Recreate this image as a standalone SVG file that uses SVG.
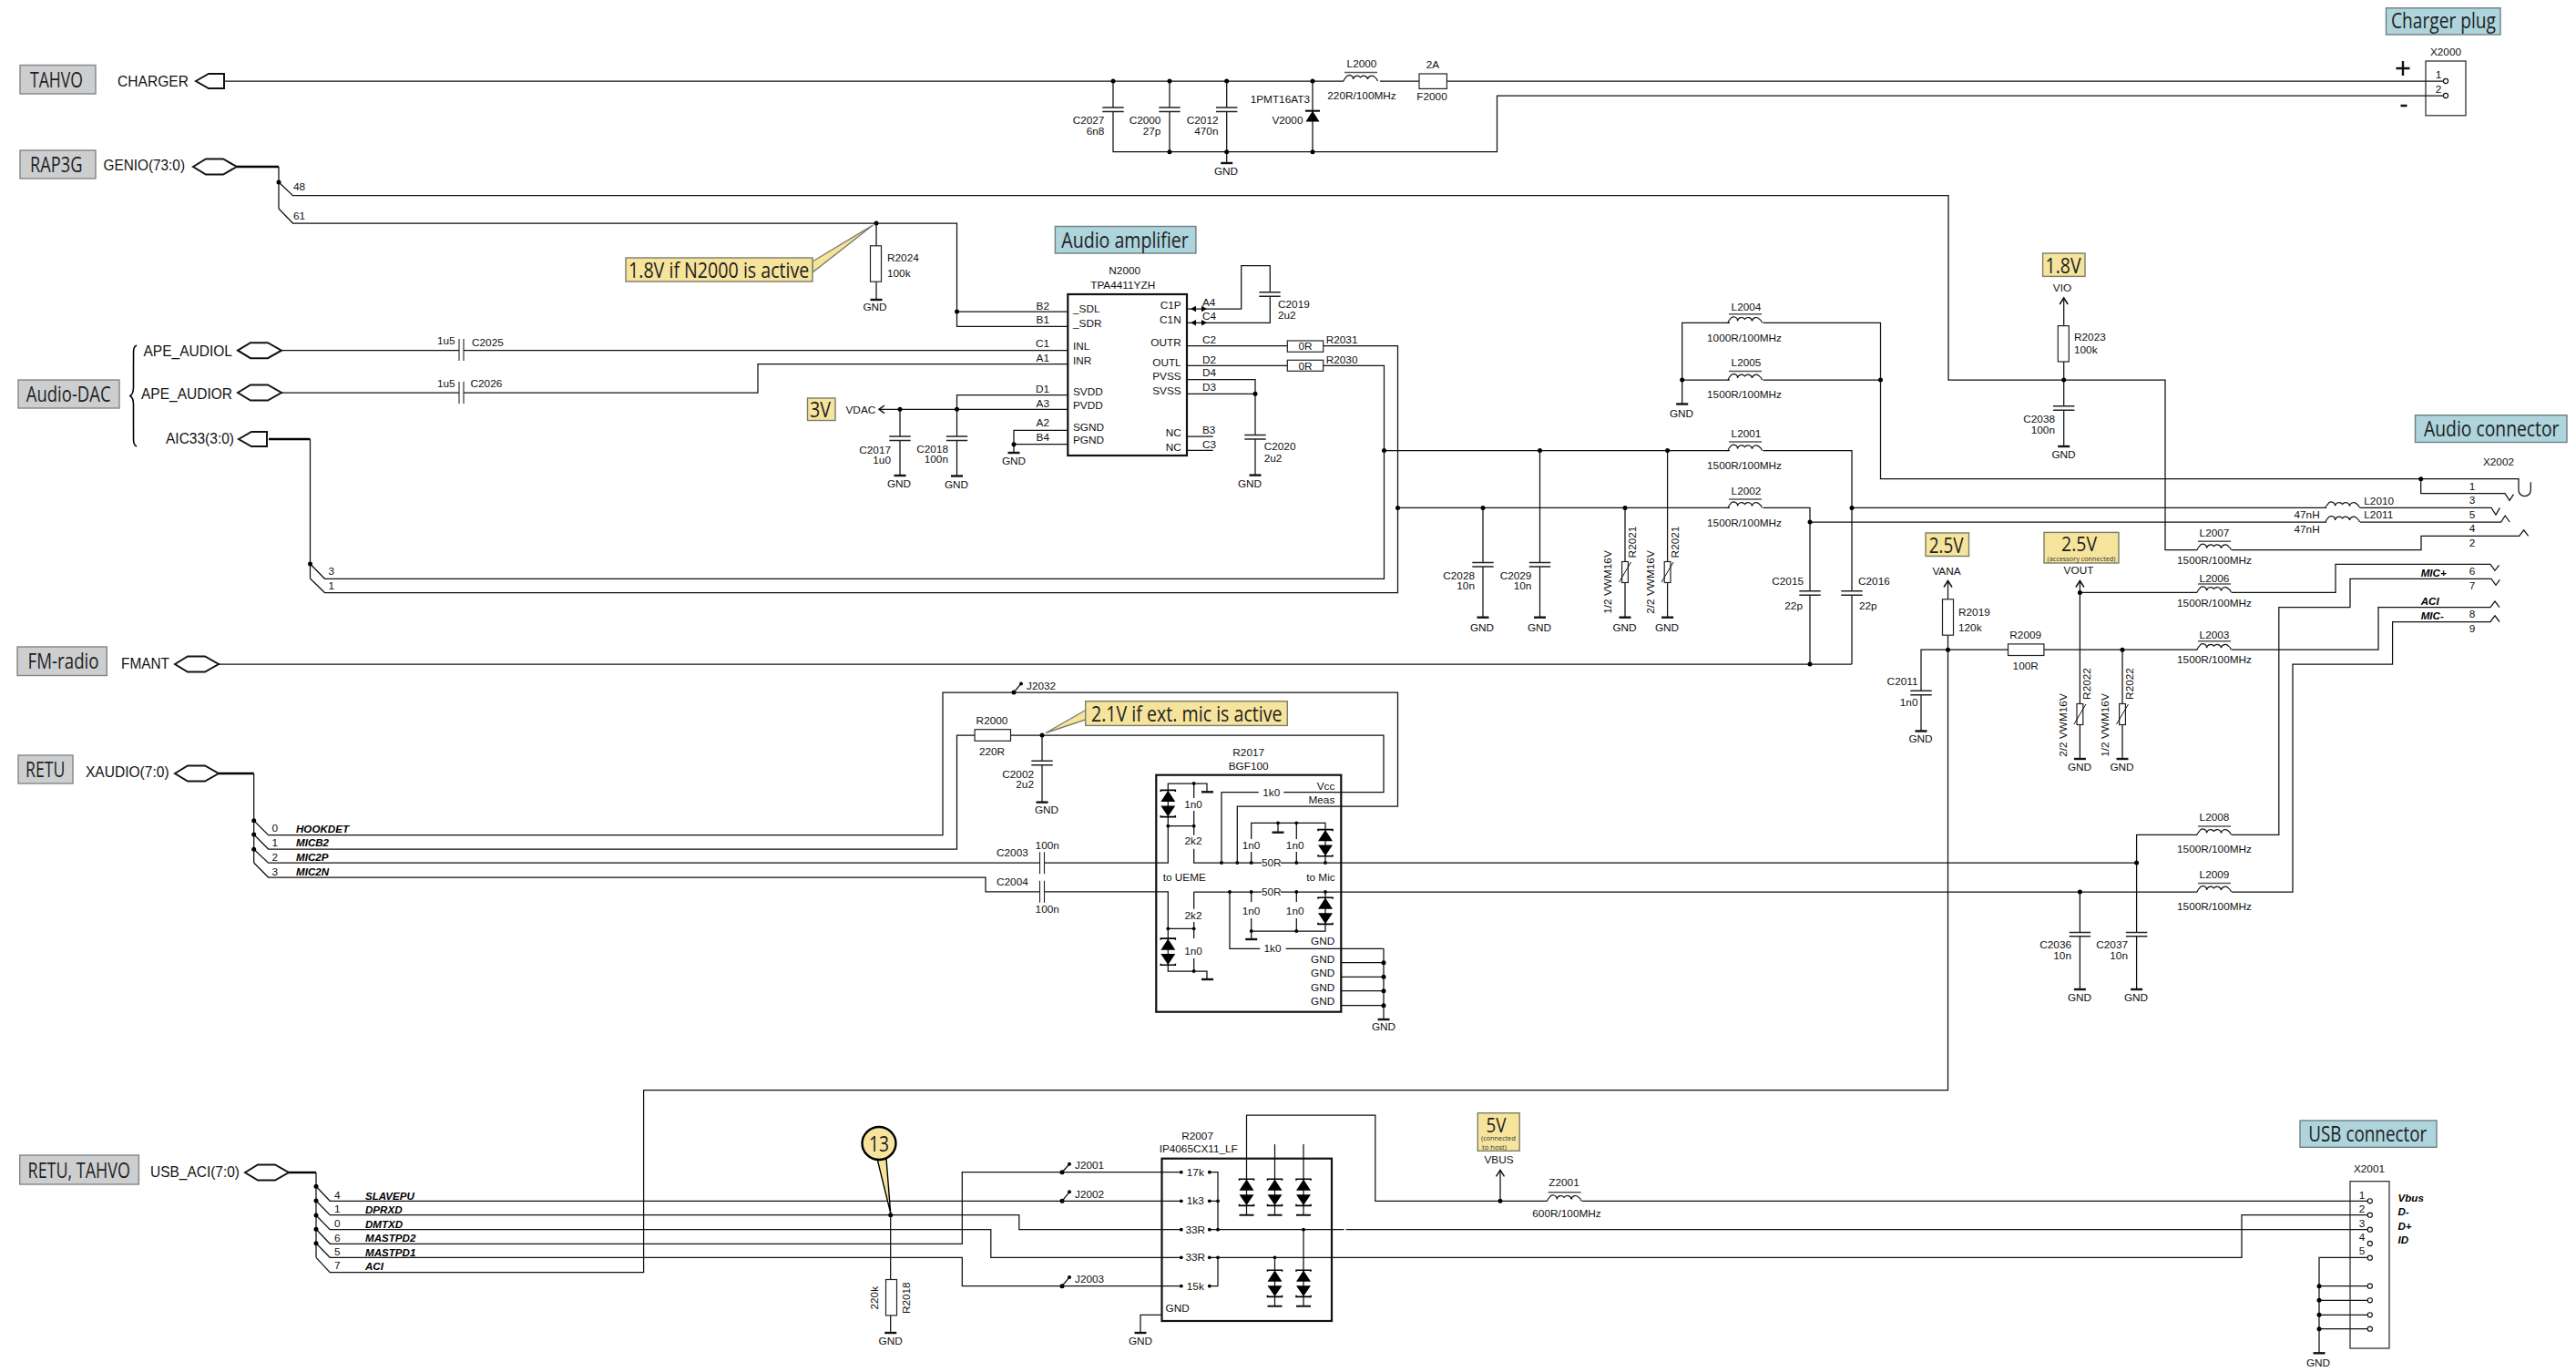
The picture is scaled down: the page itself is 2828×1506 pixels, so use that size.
<svg xmlns="http://www.w3.org/2000/svg" xmlns:xlink="http://www.w3.org/1999/xlink" width="2828" height="1506" viewBox="0 0 2828 1506">
<style>
text{font-family:"Liberation Sans",Arial,sans-serif;font-size:11.8px;fill:#111}
.m{text-anchor:middle}.e{text-anchor:end}
.p{font-size:16.5px}
.bi{font-weight:bold;font-style:italic;font-size:11.6px;fill:#000}
.c{font-family:"Open Sans","Noto Sans",sans-serif;font-size:24px;fill:#1f1f1f}
.s{font-family:"Open Sans","Noto Sans",sans-serif;font-size:8px;fill:#333}
.w{fill:none;stroke:#111;stroke-width:1.25}
.bus{fill:none;stroke:#000;stroke-width:2.4}
.bx{fill:none;stroke:#111;stroke-width:2.2}
.lg{fill:#cdced0;stroke:#858585;stroke-width:1.4}
.ly{fill:#f6e49c;stroke:#7d7d6a;stroke-width:1.4}
.lb{fill:#aed4dc;stroke:#6f7f84;stroke-width:1.4}
.r{fill:#fff;stroke:#222;stroke-width:1.2}
</style>
<defs>
<circle id="j" r="2.5" fill="#000"/>
<circle id="k" r="1.9" fill="#000"/>
<circle id="o" r="2.6" fill="#fff" stroke="#111" stroke-width="1.1"/>
<path id="gnd" d="M-6.5 0H6.5" stroke="#111" stroke-width="2.4" fill="none"/>
<g id="capv"><rect x="-12" y="-2.2" width="24" height="4.4" fill="#fff"/><path d="M-11.7 -2.2H11.7M-11.7 2.2H11.7" stroke="#222" stroke-width="1.5"/></g>
<g id="caph"><rect x="-2.5" y="-12" width="5" height="24" fill="#fff"/><path d="M-2.5 -12V12M2.5 -12V12" stroke="#222" stroke-width="1.1"/></g>
<rect id="rv" class="r" x="-6" y="-19.7" width="12" height="39.4"/>
<rect id="rh" class="r" x="-19.7" y="-6.3" width="39.4" height="12.6"/>
<path id="ind" d="M0 0q1 -3 2.5 -4a4.2 4.2 0 0 1 8 2a4.5 4.5 0 0 1 8 -2a4.5 4.5 0 0 1 8 2a4.5 4.5 0 0 1 8 -2q2 1 3 4" fill="none" stroke="#111" stroke-width="1.2"/>
<g id="indb"><use xlink:href="#ind"/><path d="M1 -9.5H37" stroke="#555" stroke-width="1.5"/></g>
<g id="dp"><path d="M0 -14.2L-8 -2H8Z M0 14.2L-8 2.4H8Z" fill="#000"/><path d="M-8 -13V-14.6H8V-13M-8 13V14.6H8V13" fill="none" stroke="#000" stroke-width="1.6"/></g>
<path id="hex" class="r" style="stroke-width:2;stroke:#111" d="M0 0L14 -8.5H33L48 0L33 8.5H14Z"/>
<path id="prt" class="r" style="stroke-width:2;stroke:#111" d="M0 0L14 -8H31V8H14Z"/>
<path id="bd" d="M0 0L6 -3.2V3.2ZM18 0L12 -3.2V3.2Z" fill="#000"/>
<path id="ar" d="M-4.5 7L0 0L4.5 7" fill="none" stroke="#111" stroke-width="1.5"/>
<g id="vr"><rect class="r" x="-3.4" y="-11.5" width="6.8" height="23"/><path d="M-6.5 11L6.5 -11" stroke="#111" stroke-width="1"/></g>
</defs>

<g id="connectors">
<path class="w" d="M246 89H1475M1515 89H1558M1588 89H2685"/>
<path class="w" d="M1222 89V166.7H1643.5V105H2685M1284 89V166.7M1346.7 89V179M1441 89V166.7"/>
<path class="bus" d="M260 183H306"/>
<path class="w" d="M306 183V229M306 200L321.5 214.7H2139V417H2377V603.7H2412M2450 603.7H2658V588.4H2765.7l5 -6.6l5 6.6"/>
<path class="w" d="M306 229L321.5 245H1050.5V358.3H1172M1050.5 342H1172M962 245V329"/>
<path class="w" d="M309 384.7H1172M309 431H832V399.5H1172"/>
<path class="bus" d="M295 482H340.5"/>
<path class="w" d="M340.5 482V635M340.5 619L356.5 635.3H1519.5V401.4H1452M340.5 635L356.5 650.5H1534.5V379.5H1452M1303 379.5H1414M1303 401.4H1414"/>
<path class="w" d="M988 449.3V522M965 449.3H1172M1050.5 449.3V433.7H1172M1050.5 449.3V522.5M1113 497V472.3H1172M1113 487.7H1172"/>
<path class="w" d="M1303 339H1362.7V291.7H1394.3V354.3H1303M1303 416.7H1378V521.6M1303 432.3H1378M1303 479H1331.7M1303 494.3H1331.7"/>
<path class="w" d="M1519.5 494.6H1899M1935.5 494.6H2033V729M1534.5 557.4H1899M1935.5 557.4H1987V729"/>
<path class="w" d="M2033 557.4H2554M2591 557.4H2735l5 7.6l4.4 -7.6M1987 573H2554M2591 573H2745.7l4.5 -7l5 7"/>
<path class="w" d="M1628 557.4V677.7M1690.5 494.6V677.7M1784 557.4V677.7M1830.6 494.6V677.7"/>
<path class="w" d="M240 729H2033"/>
<path class="w" d="M1846.7 443.5V354.3H1899M1935.5 354.3H2064.5V525.7H2765V538a6.65 6.65 0 0 0 13.3 0V529.3M1846.7 417H1899M1935.5 417H2064.5M2657.7 525.7V541.7H2750l5 7.6l4.5 -6.6"/>
<path class="w" d="M2265.7 327V490"/>
<path class="w" d="M2138.5 637.5V1196.7H706.6V1396.7H362.2L347 1380.3"/>
<path class="w" d="M2109 802.5V713.2H2205M2244 713.2H2412M2450 713.2H2611V666.7H2734l5 -6.6l5 6.6"/>
<path class="w" d="M2283.4 637.5V833M2330 713.2V833M2283.4 650.4H2412M2450 650.4H2564V619.3H2734l5 7l4.5 -6"/>
<path class="bus" d="M240 849H278.7"/>
<path class="w" d="M278.7 849V947M278.7 900.7L294.6 916.7H1035V760H1534.5V885H1358.3V947"/>
<path class="w" d="M278.7 916L294.6 932H1050.5V807H1070M1109.6 807H1519V869.7H1409.3M1381.7 869.7H1341V947M1144 807V880.6"/>
<path class="w" d="M278.7 932.3L294.6 947.2H1282.3V860H1325V869.3M1310.7 860V876M1310.7 890V916.7M1282.3 906.7H1310.7M1310.7 931.7V947H1385M1406 947H2345.6M2345.6 1086V916.4H2412M2450 916.4H2501.8V666.7H2580V635.3H2735l5 7l4.4 -6"/>
<path class="w" d="M278.7 947L294.6 963H1082V978.8H1282.3V1066H1325V1075M1310.7 979V997.7M1310.7 1012V1030M1310.7 1052V1066M1282.3 1019.3H1310.7"/>
<path class="w" d="M1310.7 979H1385M1406 979H2412M2450 979H2517V729H2626.6V682.5H2734l5 -6.6l5 6.6M2283.4 979V1086"/>
<path class="w" d="M1373.7 947V935M1373.7 921V903.3H1455V947M1403 903.3V913.7M1423.3 903.3V921M1423.3 935V947"/>
<path class="w" d="M1350 979V1041.3H1383.3M1411.7 1041.3H1519M1373.7 979V990M1373.7 1008V1031M1373.7 1022H1455V979M1423.3 979V990M1423.3 1008V1022"/>
<path class="w" d="M1472 1056.7H1519M1472 1072.3H1519M1472 1087.7H1519M1472 1103.7H1519M1519 1041.3V1119"/>
<path class="bus" d="M315.7 1287H347"/>
<path class="w" d="M347 1287V1380.3M347 1302.3L362.2 1318.3H1296.8M347 1318L362.2 1333.7H1118.8V1349.7H1296.8M347 1334L362.2 1349.7H1087.8V1380.3H1296.8M347 1349.3L362.2 1365.3H1056.3V1286.7H1296.8M347 1364.7L362.2 1380.3H1056.3V1411.7H1296.8M977.7 1333.7V1463"/>
<path class="w" d="M1327.8 1286.7H1337V1349.7H1475.6M1477.6 1349.7H2600M1327.8 1318.3H1337M1327.8 1349.7H1337M1327.8 1380.3H1337V1411.7H1327.8M1337 1380.3H2461V1333.7H2600"/>
<path class="w" d="M1368.5 1333.7V1224H1509.8V1318.3H1698.6M1736.6 1318.3H2600M1399.5 1256V1333.7M1431 1256V1333.7M1431 1349.7V1433.7M1399.5 1380.3V1433.7M1647 1318.3V1284.3M1275.5 1443.3H1252V1463"/>
<path class="w" d="M2546 1485.3V1380.3H2600M2546 1411.7H2600M2546 1427.3H2600M2546 1443.3H2600M2546 1458.7H2600"/>
</g>

<g id="junctions">
<use xlink:href="#j" x="306" y="200"/><use xlink:href="#j" x="340.5" y="619"/><use xlink:href="#j" x="278.7" y="900.7"/><use xlink:href="#j" x="278.7" y="916"/><use xlink:href="#j" x="278.7" y="932.3"/>
<use xlink:href="#j" x="347" y="1302.3"/><use xlink:href="#j" x="347" y="1318"/><use xlink:href="#j" x="347" y="1334"/><use xlink:href="#j" x="347" y="1349.3"/><use xlink:href="#j" x="347" y="1364.7"/>
<use xlink:href="#j" x="1222" y="89"/><use xlink:href="#j" x="1284" y="89"/><use xlink:href="#j" x="1346.7" y="89"/><use xlink:href="#j" x="1441" y="89"/><use xlink:href="#j" x="1284" y="166.7"/><use xlink:href="#j" x="1346.7" y="166.7"/><use xlink:href="#j" x="1441" y="166.7"/>
<use xlink:href="#j" x="962" y="245"/><use xlink:href="#j" x="1050.5" y="342"/><use xlink:href="#j" x="988" y="449.3"/><use xlink:href="#j" x="1050.5" y="449.3"/><use xlink:href="#j" x="1113" y="487.7"/><use xlink:href="#j" x="1378" y="432.3"/>
<use xlink:href="#j" x="1519.5" y="494.6"/><use xlink:href="#j" x="1690.5" y="494.6"/><use xlink:href="#j" x="1830.6" y="494.6"/><use xlink:href="#j" x="1534.5" y="557.4"/><use xlink:href="#j" x="1628" y="557.4"/><use xlink:href="#j" x="1784" y="557.4"/>
<use xlink:href="#j" x="1846.7" y="417"/><use xlink:href="#j" x="2064.5" y="417"/><use xlink:href="#j" x="2265.7" y="417"/><use xlink:href="#j" x="2657.7" y="525.7"/><use xlink:href="#j" x="2033" y="557.4"/><use xlink:href="#j" x="1987" y="573"/>
<use xlink:href="#j" x="1987" y="729"/><use xlink:href="#j" x="2138.5" y="713.2"/><use xlink:href="#j" x="2330" y="713.2"/><use xlink:href="#j" x="2283.4" y="650.4"/><use xlink:href="#j" x="2345.6" y="947"/><use xlink:href="#j" x="2283.4" y="979"/>
<use xlink:href="#j" x="1144" y="807"/><use xlink:href="#j" x="1113" y="760"/><use xlink:href="#j" x="977.7" y="1333.7"/><use xlink:href="#j" x="1647" y="1318.3"/>
<use xlink:href="#j" x="1166" y="1286.7"/><use xlink:href="#j" x="1166" y="1318.3"/><use xlink:href="#j" x="1166" y="1411.7"/>
<use xlink:href="#j" x="2546" y="1411.7"/><use xlink:href="#j" x="2546" y="1427.3"/><use xlink:href="#j" x="2546" y="1443.3"/><use xlink:href="#j" x="2546" y="1458.7"/>
<use xlink:href="#j" x="1519" y="1056.7"/><use xlink:href="#j" x="1519" y="1072.3"/><use xlink:href="#j" x="1519" y="1087.7"/><use xlink:href="#j" x="1519" y="1103.7"/>
</g>

<g id="title-tahvo"><rect class="lg" x="22" y="71.5" width="83" height="31.5"/><text class="c" x="33" y="96" textLength="58" lengthAdjust="spacingAndGlyphs">TAHVO</text></g>
<g id="title-rap3g"><rect class="lg" x="22" y="165" width="83" height="31"/><text class="c" x="33" y="189" textLength="57.5" lengthAdjust="spacingAndGlyphs">RAP3G</text></g>
<g id="title-audio-dac"><rect class="lg" x="20" y="417" width="111" height="31"/><text class="c" x="28.7" y="441" textLength="93" lengthAdjust="spacingAndGlyphs">Audio-DAC</text></g>
<g id="title-fm"><rect class="lg" x="19" y="710" width="98.3" height="31.5"/><text class="c" x="30.6" y="734" textLength="78" lengthAdjust="spacingAndGlyphs">FM-radio</text></g>
<g id="title-retu"><rect class="lg" x="20" y="829" width="60" height="31"/><text class="c" x="28" y="853" textLength="43.4" lengthAdjust="spacingAndGlyphs">RETU</text></g>
<g id="title-retu-tahvo"><rect class="lg" x="21.7" y="1268" width="130.7" height="32"/><text class="c" x="30.6" y="1293" textLength="112.3" lengthAdjust="spacingAndGlyphs">RETU, TAHVO</text></g>
<g id="title-charger-plug"><rect class="lb" x="2619.5" y="8.8" width="125.5" height="29.2"/><text class="c" x="2625" y="31" textLength="115" lengthAdjust="spacingAndGlyphs">Charger plug</text></g>
<g id="title-audio-conn"><rect class="lb" x="2651.5" y="455.7" width="166.5" height="29.8"/><text class="c" x="2661" y="479" textLength="148.5" lengthAdjust="spacingAndGlyphs">Audio connector</text></g>
<g id="title-usb"><rect class="lb" x="2525" y="1230" width="150" height="29.3"/><text class="c" x="2534.3" y="1253" textLength="130" lengthAdjust="spacingAndGlyphs">USB connector</text></g>
<g id="title-amp"><rect class="lb" x="1158.4" y="248.5" width="154.5" height="29.5"/><text class="c" x="1165.3" y="272" textLength="139.5" lengthAdjust="spacingAndGlyphs">Audio amplifier</text></g>

<g id="note-18active"><path class="ly" d="M892 287L958.5 247L892 299Z"/><rect class="ly" x="687" y="283" width="205" height="26"/><text class="c" x="690" y="305" textLength="198.4" lengthAdjust="spacingAndGlyphs">1.8V if N2000 is active</text></g>
<g id="note-21active"><path class="ly" d="M1191.7 779.5L1148 804.5L1191.7 790Z"/><rect class="ly" x="1191.7" y="769.7" width="221.6" height="26.7"/><text class="c" x="1198" y="792" textLength="209.6" lengthAdjust="spacingAndGlyphs">2.1V if ext. mic is active</text></g>
<g id="note-3v"><rect class="ly" x="886.5" y="437" width="30.5" height="24.5"/><text class="c" x="889" y="458" textLength="23" lengthAdjust="spacingAndGlyphs">3V</text></g>
<g id="note-18v"><rect class="ly" x="2242.6" y="278" width="46.4" height="25.4"/><text class="c" x="2245.6" y="299.5" textLength="39" lengthAdjust="spacingAndGlyphs">1.8V</text></g>
<g id="note-25vana"><rect class="ly" x="2114" y="585" width="47.5" height="25.5"/><text class="c" x="2117.8" y="606.5" textLength="37.8" lengthAdjust="spacingAndGlyphs">2.5V</text></g>
<g id="note-25vout"><rect class="ly" x="2244" y="584.4" width="82" height="33.6"/><text class="c" style="font-size:22px" x="2263" y="604.5" textLength="39" lengthAdjust="spacingAndGlyphs">2.5V</text><text class="s" x="2285" y="615.5" text-anchor="middle" textLength="75" lengthAdjust="spacingAndGlyphs">(accessory connected)</text></g>
<g id="note-5v"><rect class="ly" x="1622.3" y="1221.7" width="45.9" height="41.6"/><text class="c" style="font-size:22px" x="1631.5" y="1243" textLength="22" lengthAdjust="spacingAndGlyphs">5V</text><text class="s" x="1645" y="1252" text-anchor="middle" textLength="38" lengthAdjust="spacingAndGlyphs">(connected</text><text class="s" x="1640.5" y="1261.5" text-anchor="middle" textLength="27" lengthAdjust="spacingAndGlyphs">to host)</text></g>
<g id="note-13"><path class="ly" style="stroke:#000" d="M963 1272L973 1272L977.7 1331.7Z"/><ellipse cx="965" cy="1255" rx="18.5" ry="18" fill="#f6e49c" stroke="#000" stroke-width="2.4"/><text class="c" x="954" y="1263.5" textLength="22" lengthAdjust="spacingAndGlyphs">13</text></g>

<g id="port-charger"><text class="p" x="129" y="95" textLength="78" lengthAdjust="spacingAndGlyphs">CHARGER</text><use xlink:href="#prt" x="215" y="89"/></g>
<g id="port-genio"><text class="p" x="113.5" y="187" textLength="89.5" lengthAdjust="spacingAndGlyphs">GENIO(73:0)</text><use xlink:href="#hex" x="212" y="183"/><text x="322" y="209">48</text><text x="322" y="241">61</text></g>
<g id="brace"><path d="M150 379C145 381 147 388 146.5 400V425Q146.5 432 143 434.5Q146.5 437 146.5 444V470C147 481 145 488 150 490" fill="none" stroke="#000" stroke-width="1.6"/></g>
<g id="port-ape-l"><text class="p" x="157.5" y="391" textLength="97.5" lengthAdjust="spacingAndGlyphs">APE_AUDIOL</text><use xlink:href="#hex" x="261" y="384.7"/></g>
<g id="port-ape-r"><text class="p" x="155" y="438" textLength="100" lengthAdjust="spacingAndGlyphs">APE_AUDIOR</text><use xlink:href="#hex" x="261" y="431"/></g>
<g id="port-aic"><text class="p" x="182" y="487" textLength="75" lengthAdjust="spacingAndGlyphs">AIC33(3:0)</text><use xlink:href="#prt" x="262" y="482"/><text x="360.5" y="631">3</text><text x="360.5" y="647">1</text></g>
<g id="port-fmant"><text class="p" x="133" y="733.5" textLength="53" lengthAdjust="spacingAndGlyphs">FMANT</text><use xlink:href="#hex" x="192" y="729"/></g>
<g id="port-xaudio"><text class="p" x="94" y="852.5" textLength="91.6" lengthAdjust="spacingAndGlyphs">XAUDIO(7:0)</text><use xlink:href="#hex" x="192" y="849"/>
<text x="298.5" y="913">0</text><text class="bi" x="325" y="913.5">HOOKDET</text>
<text x="298.5" y="929">1</text><text class="bi" x="325" y="929">MICB2</text>
<text x="298.5" y="945">2</text><text class="bi" x="325" y="945">MIC2P</text>
<text x="298.5" y="960.5">3</text><text class="bi" x="325" y="961">MIC2N</text></g>
<g id="port-usb"><text class="p" x="165" y="1291.5" textLength="98" lengthAdjust="spacingAndGlyphs">USB_ACI(7:0)</text><use xlink:href="#hex" x="269" y="1287"/>
<text x="367" y="1316">4</text><text class="bi" x="401" y="1316.5">SLAVEPU</text>
<text x="367" y="1331">1</text><text class="bi" x="401" y="1331.5">DPRXD</text>
<text x="367" y="1347">0</text><text class="bi" x="401" y="1347.5">DMTXD</text>
<text x="367" y="1362.5">6</text><text class="bi" x="401" y="1363">MASTPD2</text>
<text x="367" y="1377.5">5</text><text class="bi" x="401" y="1378.5">MASTPD1</text>
<text x="367" y="1392.5">7</text><text class="bi" x="401" y="1394">ACI</text></g>

<g id="C2027"><use xlink:href="#capv" x="1222" y="120.3"/><text class="e" x="1212.4" y="136">C2027</text><text class="e" x="1212.4" y="148">6n8</text></g>
<g id="C2000"><use xlink:href="#capv" x="1284" y="120.3"/><text class="e" x="1274.4" y="136">C2000</text><text class="e" x="1274.4" y="148">27p</text></g>
<g id="C2012"><use xlink:href="#capv" x="1346.7" y="120.3"/><text class="e" x="1337.5" y="136">C2012</text><text class="e" x="1337.5" y="148">470n</text><use xlink:href="#gnd" x="1346.7" y="179"/><text class="m" x="1346" y="191.5">GND</text></g>
<g id="V2000"><path d="M1441 121.7L1433.5 133.5H1448.5Z" fill="#000"/><path d="M1433 121.7H1449" stroke="#000" stroke-width="2"/><text class="e" x="1438" y="113">1PMT16AT3</text><text class="e" x="1430.5" y="136">V2000</text></g>
<g id="L2000"><use xlink:href="#indb" x="1475" y="89"/><text class="m" x="1495" y="74">L2000</text><text class="m" x="1495" y="109">220R/100MHz</text></g>
<g id="F2000"><rect class="r" x="1558" y="81" width="30.4" height="16.4"/><text class="m" x="1573" y="75">2A</text><text class="m" x="1572" y="110">F2000</text></g>
<g id="X2000"><rect x="2663" y="67" width="44" height="59.8" fill="none" stroke="#222" stroke-width="1.2"/><text class="m" x="2685" y="61">X2000</text><text class="m" x="2677" y="86">1</text><text class="m" x="2677" y="102">2</text><use xlink:href="#o" x="2685" y="89"/><use xlink:href="#o" x="2685" y="105"/><path d="M2638 67V83M2630.5 75H2645.5M2635.5 116H2642.5" stroke="#111" stroke-width="2.4" fill="none"/></g>

<g id="R2024"><use xlink:href="#rv" x="961.5" y="289.5"/><text x="974" y="287">R2024</text><text x="974" y="304">100k</text><use xlink:href="#gnd" x="962" y="329"/><text class="m" x="960.5" y="341">GND</text></g>
<g id="C2025"><use xlink:href="#caph" x="506.5" y="384"/><text x="480" y="378">1u5</text><text x="518" y="380">C2025</text></g>
<g id="C2026"><use xlink:href="#caph" x="506.5" y="431"/><text x="480" y="424.5">1u5</text><text x="516.5" y="424.5">C2026</text></g>
<g id="VDAC"><text x="928.5" y="453.5">VDAC</text><path d="M971 445L965 449.3L971 453.6" fill="none" stroke="#111" stroke-width="1.5"/></g>
<g id="C2017"><use xlink:href="#capv" x="988" y="481.3"/><text class="e" x="978" y="497.5">C2017</text><text class="e" x="978" y="508.5">1u0</text><use xlink:href="#gnd" x="988" y="522"/><text class="m" x="987" y="535">GND</text></g>
<g id="C2018"><use xlink:href="#capv" x="1050.5" y="481.3"/><text class="e" x="1041" y="497">C2018</text><text class="e" x="1041" y="508">100n</text><use xlink:href="#gnd" x="1050.5" y="522.5"/><text class="m" x="1050" y="536">GND</text></g>
<g id="gnd-n2000"><use xlink:href="#gnd" x="1113" y="497"/><text class="m" x="1113" y="510">GND</text></g>

<g id="N2000"><rect class="r" style="stroke-width:2.2;stroke:#111;fill:#fff" x="1172.3" y="323" width="130.7" height="177"/>
<text class="m" x="1234.7" y="301">N2000</text><text class="m" x="1232.7" y="317">TPA4411YZH</text>
<text x="1178" y="343">_SDL</text><text x="1178" y="359.3">_SDR</text><text x="1178" y="383.7">INL</text><text x="1178" y="400">INR</text><text x="1178" y="434">SVDD</text><text x="1178" y="449">PVDD</text><text x="1178" y="472.7">SGND</text><text x="1178" y="487.3">PGND</text>
<text class="e" x="1296.7" y="338.7">C1P</text><text class="e" x="1296.7" y="354.7">C1N</text><text class="e" x="1296.7" y="380">OUTR</text><text class="e" x="1296.7" y="402">OUTL</text><text class="e" x="1296.7" y="416.7">PVSS</text><text class="e" x="1296.7" y="432.7">SVSS</text><text class="e" x="1296.7" y="478.7">NC</text><text class="e" x="1296.7" y="495">NC</text>
<text x="1320" y="335.7">A4</text><text x="1320" y="350.7">C4</text><text x="1320" y="376.7">C2</text><text x="1320" y="398.7">D2</text><text x="1320" y="413.3">D4</text><text x="1320" y="428.7">D3</text><text x="1320" y="475.7">B3</text><text x="1320" y="491.7">C3</text>
<text class="e" x="1152" y="340">B2</text><text class="e" x="1152" y="355">B1</text><text class="e" x="1152" y="381">C1</text><text class="e" x="1152" y="396.7">A1</text><text class="e" x="1152" y="430.7">D1</text><text class="e" x="1152" y="446.7">A3</text><text class="e" x="1152" y="468">A2</text><text class="e" x="1152" y="484">B4</text>
<use xlink:href="#bd" x="1307" y="339"/><use xlink:href="#bd" x="1307" y="354.3"/></g>
<g id="C2019"><use xlink:href="#capv" x="1394" y="323"/><text x="1403" y="338">C2019</text><text x="1403" y="350">2u2</text></g>
<g id="C2020"><use xlink:href="#capv" x="1378" y="479.7"/><text x="1387.7" y="494">C2020</text><text x="1387.7" y="506.7">2u2</text><use xlink:href="#gnd" x="1378" y="521.6"/><text class="m" x="1372" y="535">GND</text></g>
<g id="R2031"><rect class="r" x="1413.3" y="374" width="39.4" height="12.3"/><text class="m" x="1433" y="384">0R</text><text x="1455.7" y="377">R2031</text></g>
<g id="R2030"><rect class="r" x="1413.3" y="395.3" width="39.4" height="12"/><text class="m" x="1433" y="405.5">0R</text><text x="1455.7" y="399">R2030</text></g>

<g id="L2004"><use xlink:href="#indb" x="1897" y="354.3"/><text class="m" x="1917" y="340.5">L2004</text><text class="m" x="1915" y="375">1000R/100MHz</text><use xlink:href="#gnd" x="1846.7" y="443.5"/><text class="m" x="1846" y="457.5">GND</text></g>
<g id="L2005"><use xlink:href="#indb" x="1897" y="417"/><text class="m" x="1917" y="402">L2005</text><text class="m" x="1915" y="437">1500R/100MHz</text></g>
<g id="L2001"><use xlink:href="#indb" x="1897" y="494.6"/><text class="m" x="1917" y="480">L2001</text><text class="m" x="1915" y="515">1500R/100MHz</text></g>
<g id="L2002"><use xlink:href="#indb" x="1897" y="557.4"/><text class="m" x="1917" y="543">L2002</text><text class="m" x="1915" y="578">1500R/100MHz</text></g>
<g id="C2028"><use xlink:href="#capv" x="1628" y="619.7"/><text class="e" x="1619" y="636">C2028</text><text class="e" x="1619" y="647">10n</text><use xlink:href="#gnd" x="1628" y="677.7"/><text class="m" x="1627" y="693">GND</text></g>
<g id="C2029"><use xlink:href="#capv" x="1690.5" y="619.7"/><text class="e" x="1681.4" y="636">C2029</text><text class="e" x="1681.4" y="647">10n</text><use xlink:href="#gnd" x="1690.5" y="677.7"/><text class="m" x="1690" y="693">GND</text></g>
<g id="R2021-1"><use xlink:href="#vr" x="1784" y="628"/><text class="m" transform="rotate(-90 1796 595)" x="1796" y="595">R2021</text><text class="m" transform="rotate(-90 1769 639)" x="1769" y="639">1/2 VWM16V</text><use xlink:href="#gnd" x="1784" y="677.7"/><text class="m" x="1783.5" y="693">GND</text></g>
<g id="R2021-2"><use xlink:href="#vr" x="1830.6" y="628"/><text class="m" transform="rotate(-90 1843 595)" x="1843" y="595">R2021</text><text class="m" transform="rotate(-90 1816 639)" x="1816" y="639">2/2 VWM16V</text><use xlink:href="#gnd" x="1830.6" y="677.7"/><text class="m" x="1830" y="693">GND</text></g>
<g id="C2015"><use xlink:href="#capv" x="1987" y="651"/><text class="e" x="1980" y="642">C2015</text><text class="e" x="1979" y="668.5">22p</text></g>
<g id="C2016"><use xlink:href="#capv" x="2033" y="651"/><text x="2040" y="642">C2016</text><text x="2041" y="669">22p</text></g>

<g id="R2023"><use xlink:href="#ar" x="2265.7" y="327"/><text class="m" x="2264" y="320">VIO</text><use xlink:href="#rv" x="2265.3" y="377.3"/><text x="2277" y="374">R2023</text><text x="2277" y="388">100k</text></g>
<g id="C2038"><use xlink:href="#capv" x="2265.7" y="448"/><text class="e" x="2256" y="464">C2038</text><text class="e" x="2256" y="476">100n</text><use xlink:href="#gnd" x="2265.7" y="490"/><text class="m" x="2265.5" y="502.5">GND</text></g>
<g id="X2002"><text class="m" x="2743" y="511">X2002</text>
<text class="m" x="2714" y="538">1</text><text class="m" x="2714" y="553">3</text><text class="m" x="2714" y="569">5</text><text class="m" x="2714" y="584">4</text><text class="m" x="2714" y="600">2</text><text class="m" x="2714" y="630.7">6</text><text class="m" x="2714" y="647">7</text><text class="m" x="2714" y="678">8</text><text class="m" x="2714" y="693.7">9</text>
<text class="bi" x="2657.7" y="633">MIC+</text><text class="bi" x="2657.7" y="664">ACI</text><text class="bi" x="2657.7" y="680">MIC-</text></g>
<g id="L2010"><use xlink:href="#ind" x="2553" y="557.4"/><text x="2595.3" y="554">L2010</text><text class="e" x="2546.7" y="568.8">47nH</text></g>
<g id="L2011"><use xlink:href="#ind" x="2553" y="573"/><text x="2595.3" y="568.8">L2011</text><text class="e" x="2546.7" y="585">47nH</text></g>
<g id="L2007"><use xlink:href="#indb" x="2412" y="603.7"/><text class="m" x="2431" y="589">L2007</text><text class="m" x="2431" y="619">1500R/100MHz</text></g>
<g id="L2006"><use xlink:href="#indb" x="2412" y="650.4"/><text class="m" x="2431" y="639">L2006</text><text class="m" x="2431" y="666">1500R/100MHz</text></g>
<g id="L2003"><use xlink:href="#indb" x="2412" y="713.2"/><text class="m" x="2431" y="701">L2003</text><text class="m" x="2431" y="728">1500R/100MHz</text></g>
<g id="L2008"><use xlink:href="#indb" x="2412" y="916.4"/><text class="m" x="2431" y="901">L2008</text><text class="m" x="2431" y="936">1500R/100MHz</text></g>
<g id="L2009"><use xlink:href="#indb" x="2412" y="979"/><text class="m" x="2431" y="964">L2009</text><text class="m" x="2431" y="999">1500R/100MHz</text></g>
<g id="R2019"><use xlink:href="#ar" x="2138.5" y="637.5"/><text class="m" x="2137" y="631">VANA</text><use xlink:href="#rv" x="2138.5" y="677.5"/><text x="2150" y="676">R2019</text><text x="2150" y="693">120k</text></g>
<g id="R2009"><use xlink:href="#rh" x="2224.2" y="713.2"/><text class="m" x="2223.7" y="701">R2009</text><text class="m" x="2223.7" y="735">100R</text></g>
<g id="C2011"><use xlink:href="#capv" x="2109" y="760.5"/><text class="e" x="2105.5" y="752">C2011</text><text class="e" x="2105.5" y="775">1n0</text><use xlink:href="#gnd" x="2109" y="802.5"/><text class="m" x="2108.5" y="814.5">GND</text></g>
<g id="R2022-2"><use xlink:href="#ar" x="2283.4" y="637.5"/><text class="m" x="2282" y="630">VOUT</text><use xlink:href="#vr" x="2283.4" y="784"/><text class="m" transform="rotate(-90 2294.5 750.5)" x="2294.5" y="750.5">R2022</text><text class="m" transform="rotate(-90 2268.5 796)" x="2268.5" y="796">2/2 VWM16V</text><use xlink:href="#gnd" x="2283.4" y="833"/><text class="m" x="2283" y="845.7">GND</text></g>
<g id="R2022-1"><use xlink:href="#vr" x="2330" y="784"/><text class="m" transform="rotate(-90 2342 750.5)" x="2342" y="750.5">R2022</text><text class="m" transform="rotate(-90 2315 796)" x="2315" y="796">1/2 VWM16V</text><use xlink:href="#gnd" x="2330" y="833"/><text class="m" x="2329.5" y="845.7">GND</text></g>
<g id="C2036"><use xlink:href="#capv" x="2283.4" y="1025.6"/><text class="e" x="2274" y="1041">C2036</text><text class="e" x="2274" y="1053">10n</text><use xlink:href="#gnd" x="2283.4" y="1086"/><text class="m" x="2283" y="1099">GND</text></g>
<g id="C2037"><use xlink:href="#capv" x="2345.6" y="1025.6"/><text class="e" x="2336" y="1041">C2037</text><text class="e" x="2336" y="1053">10n</text><use xlink:href="#gnd" x="2345.6" y="1086"/><text class="m" x="2345" y="1099">GND</text></g>

<g id="J2032"><path d="M1113 760L1121 750.4" stroke="#111" stroke-width="1.3"/><circle cx="1121" cy="750.4" r="2" fill="#000"/><text x="1127" y="757">J2032</text></g>
<g id="R2000"><use xlink:href="#rh" x="1089.8" y="807"/><text class="m" x="1089" y="795">R2000</text><text class="m" x="1089" y="829">220R</text></g>
<g id="C2002"><use xlink:href="#capv" x="1144" y="837.5"/><text class="e" x="1135" y="854">C2002</text><text class="e" x="1135" y="865">2u2</text><use xlink:href="#gnd" x="1144" y="880.6"/><text class="m" x="1149" y="893">GND</text></g>
<g id="C2003"><use xlink:href="#caph" x="1144" y="947.3"/><text x="1094" y="939.7">C2003</text><text x="1136.6" y="932">100n</text></g>
<g id="C2004"><use xlink:href="#caph" x="1144" y="978.8"/><text x="1094" y="972">C2004</text><text x="1136.6" y="1002">100n</text></g>

<g id="R2017"><rect x="1269.3" y="850.7" width="203" height="260" fill="none" stroke="#111" stroke-width="2.2"/>
<text class="m" x="1370.7" y="830">R2017</text><text class="m" x="1370.7" y="844.7">BGF100</text>
<use xlink:href="#dp" x="1282.3" y="882"/><use xlink:href="#dp" x="1455" y="925.2"/><use xlink:href="#dp" x="1455" y="999.8"/><use xlink:href="#dp" x="1282.3" y="1044.7"/>
<use xlink:href="#k" x="1310.7" y="860"/><use xlink:href="#k" x="1310.7" y="906.7"/><use xlink:href="#k" x="1282.3" y="906.7"/><use xlink:href="#k" x="1341" y="947"/><use xlink:href="#k" x="1358.3" y="947"/><use xlink:href="#k" x="1373.7" y="947"/><use xlink:href="#k" x="1423.3" y="947"/><use xlink:href="#k" x="1455" y="947"/><use xlink:href="#k" x="1403" y="903.3"/><use xlink:href="#k" x="1423.3" y="903.3"/>
<use xlink:href="#k" x="1350" y="979"/><use xlink:href="#k" x="1373.7" y="979"/><use xlink:href="#k" x="1423.3" y="979"/><use xlink:href="#k" x="1455" y="979"/><use xlink:href="#k" x="1373.7" y="1022"/><use xlink:href="#k" x="1423.3" y="1022"/><use xlink:href="#k" x="1282.3" y="1019.3"/><use xlink:href="#k" x="1310.7" y="1019.3"/><use xlink:href="#k" x="1310.7" y="1066"/>
<use xlink:href="#gnd" x="1325.5" y="869.3"/><use xlink:href="#gnd" x="1403" y="913.7"/><use xlink:href="#gnd" x="1373.7" y="1031"/><use xlink:href="#gnd" x="1325.5" y="1075"/>
<text class="m" x="1310" y="886.7">1n0</text><text class="m" x="1310" y="926.7">2k2</text><text class="m" x="1395.7" y="873.5">1k0</text><text class="e" x="1465.3" y="866.7">Vcc</text><text class="e" x="1465.3" y="881.7">Meas</text>
<text class="m" x="1373.5" y="932">1n0</text><text class="m" x="1421.7" y="932">1n0</text><text x="1385" y="951">50R</text>
<text x="1276.7" y="967.3">to UEME</text><text class="e" x="1465.7" y="967.3">to Mic</text>
<text x="1385" y="983">50R</text><text class="m" x="1373.5" y="1004">1n0</text><text class="m" x="1421.7" y="1004">1n0</text><text class="m" x="1310" y="1009">2k2</text><text class="m" x="1310" y="1048.3">1n0</text><text class="m" x="1397" y="1045">1k0</text>
<text class="e" x="1465.3" y="1037.3">GND</text><text class="e" x="1465.3" y="1056.7">GND</text><text class="e" x="1465.3" y="1072.3">GND</text><text class="e" x="1465.3" y="1087.7">GND</text><text class="e" x="1465.3" y="1103.3">GND</text></g>
<g id="gnd-bgf"><use xlink:href="#gnd" x="1519" y="1119"/><text class="m" x="1519" y="1131">GND</text></g>

<g id="R2018"><use xlink:href="#rv" x="978.5" y="1424.2"/><text class="m" transform="rotate(-90 964.5 1424.7)" x="964.5" y="1424.7">220k</text><text class="m" transform="rotate(-90 999 1424.7)" x="999" y="1424.7">R2018</text><use xlink:href="#gnd" x="977.7" y="1463"/><text class="m" x="977.7" y="1475.7">GND</text></g>
<g id="J2001"><path d="M1166 1286.7L1174 1277.7" stroke="#111" stroke-width="1.3"/><circle cx="1174" cy="1277.7" r="2" fill="#000"/><text x="1180" y="1283.3">J2001</text></g>
<g id="J2002"><path d="M1166 1318.3L1174 1308.3" stroke="#111" stroke-width="1.3"/><circle cx="1174" cy="1308.3" r="2" fill="#000"/><text x="1180" y="1315">J2002</text></g>
<g id="J2003"><path d="M1166 1411.7L1174 1402" stroke="#111" stroke-width="1.3"/><circle cx="1174" cy="1402" r="2" fill="#000"/><text x="1180" y="1408">J2003</text></g>
<g id="R2007"><rect x="1275.5" y="1271.7" width="186.5" height="178.3" fill="none" stroke="#111" stroke-width="2.2"/>
<text class="m" x="1314.6" y="1251">R2007</text><text x="1272.7" y="1265" textLength="86" lengthAdjust="spacingAndGlyphs">IP4065CX11_LF</text>
<text class="m" x="1312.3" y="1290.7">17k</text><text class="m" x="1312.3" y="1322.3">1k3</text><text class="m" x="1312.3" y="1353.7">33R</text><text class="m" x="1312.3" y="1384.3">33R</text><text class="m" x="1312.3" y="1415.7">15k</text>
<use xlink:href="#k" x="1296.8" y="1286.7"/><use xlink:href="#k" x="1296.8" y="1318.3"/><use xlink:href="#k" x="1296.8" y="1349.7"/><use xlink:href="#k" x="1296.8" y="1380.3"/><use xlink:href="#k" x="1296.8" y="1411.7"/>
<use xlink:href="#k" x="1327.8" y="1286.7"/><use xlink:href="#k" x="1327.8" y="1318.3"/><use xlink:href="#k" x="1327.8" y="1349.7"/><use xlink:href="#k" x="1327.8" y="1380.3"/><use xlink:href="#k" x="1327.8" y="1411.7"/>
<use xlink:href="#k" x="1337" y="1318.3"/><use xlink:href="#k" x="1337" y="1349.7"/><use xlink:href="#k" x="1337" y="1380.3"/><use xlink:href="#k" x="1431" y="1349.7"/><use xlink:href="#k" x="1399.5" y="1380.3"/>
<use xlink:href="#dp" x="1368.5" y="1308.8"/><use xlink:href="#dp" x="1399.5" y="1308.8"/><use xlink:href="#dp" x="1431" y="1308.8"/><use xlink:href="#dp" x="1399.5" y="1408.8"/><use xlink:href="#dp" x="1431" y="1408.8"/>
<path d="M1360.5 1333.7H1376.5M1391.5 1333.7H1407.5M1423 1333.7H1439M1391.5 1433.7H1407.5M1423 1433.7H1439" stroke="#111" stroke-width="2"/>
<text x="1279.6" y="1439.7">GND</text></g>
<g id="gnd-r2007"><use xlink:href="#gnd" x="1252" y="1463"/><text class="m" x="1252" y="1475.7">GND</text></g>
<g id="VBUS"><use xlink:href="#ar" x="1647" y="1284.3"/><text class="m" x="1645.5" y="1276.7">VBUS</text></g>
<g id="Z2001"><use xlink:href="#indb" x="1698.6" y="1318.3"/><text class="m" x="1717" y="1302">Z2001</text><text class="m" x="1720" y="1336">600R/100MHz</text></g>
<g id="X2001"><rect x="2580" y="1296.7" width="43" height="183.3" fill="none" stroke="#222" stroke-width="1.2"/><text class="m" x="2601" y="1287">X2001</text>
<text class="m" x="2593" y="1315.7">1</text><text class="m" x="2593" y="1331">2</text><text class="m" x="2593" y="1347">3</text><text class="m" x="2593" y="1362">4</text><text class="m" x="2593" y="1377">5</text>
<use xlink:href="#o" x="2601.8" y="1318.3"/><use xlink:href="#o" x="2601.8" y="1333.7"/><use xlink:href="#o" x="2601.8" y="1349.7"/><use xlink:href="#o" x="2601.8" y="1365"/><use xlink:href="#o" x="2601.8" y="1380.7"/><use xlink:href="#o" x="2601.8" y="1411.7"/><use xlink:href="#o" x="2601.8" y="1427.3"/><use xlink:href="#o" x="2601.8" y="1443.3"/><use xlink:href="#o" x="2601.8" y="1458.7"/>
<text class="bi" x="2632.5" y="1319">Vbus</text><text class="bi" x="2632.5" y="1334">D-</text><text class="bi" x="2632.5" y="1350">D+</text><text class="bi" x="2632.5" y="1365">ID</text>
<use xlink:href="#gnd" x="2546" y="1485.3"/><text class="m" x="2545" y="1500">GND</text></g>
</svg>
